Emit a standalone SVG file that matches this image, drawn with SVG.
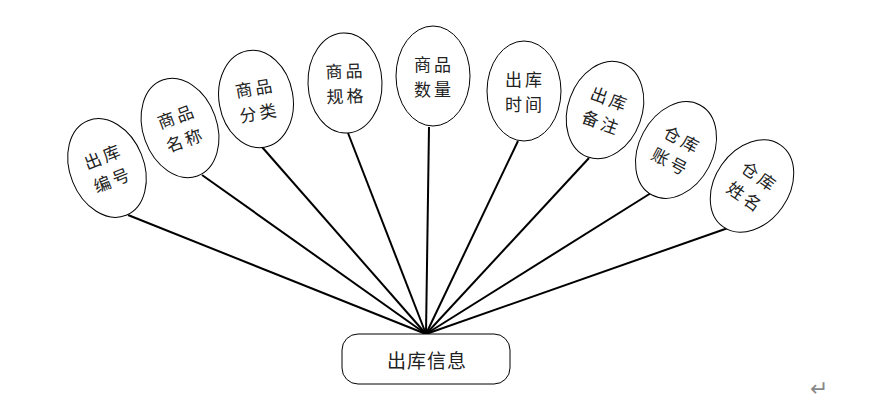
<svg xmlns="http://www.w3.org/2000/svg" width="869" height="414" viewBox="0 0 869 414">
<style>
.e{fill:#fff;stroke:#000;stroke-width:1}
.t{font-family:"Noto Sans CJK SC","Noto Sans",sans-serif;font-size:17px;fill:#222;text-anchor:middle;dominant-baseline:central;letter-spacing:3px}
.c line{stroke:#000;stroke-width:2}
.hub{fill:#fff;stroke:#000;stroke-width:1}
</style>
<rect width="869" height="414" fill="#fff"/>
<g class="c" id="connectors">
<line x1="426" y1="334" x2="128" y2="215"/>
<line x1="426" y1="334" x2="202" y2="175"/>
<line x1="426" y1="334" x2="262" y2="147"/>
<line x1="426" y1="334" x2="348" y2="133"/>
<line x1="426" y1="334" x2="429" y2="127"/>
<line x1="426" y1="334" x2="518" y2="141"/>
<line x1="426" y1="334" x2="589" y2="158"/>
<line x1="426" y1="334" x2="651" y2="193"/>
<line x1="426" y1="334" x2="728" y2="228"/>
</g>
<g id="n1" transform="rotate(-22 107 168)">
<ellipse class="e" cx="107" cy="168" rx="37" ry="51"/>
<text class="t" x="108" y="155">出库</text>
<text class="t" x="108" y="180">编号</text>
</g>
<g id="n2" transform="rotate(-20 180 128)">
<ellipse class="e" cx="180" cy="128" rx="37" ry="51"/>
<text class="t" x="181" y="115">商品</text>
<text class="t" x="181" y="140">名称</text>
</g>
<g id="n3" transform="rotate(-10 256 99)">
<ellipse class="e" cx="256" cy="99" rx="37" ry="49"/>
<text class="t" x="257" y="87">商品</text>
<text class="t" x="257" y="112">分类</text>
</g>
<g id="n4" transform="rotate(-2 345 83)">
<ellipse class="e" cx="345" cy="83" rx="37" ry="50"/>
<text class="t" x="346" y="70">商品</text>
<text class="t" x="346" y="95">规格</text>
</g>
<g id="n5">
<ellipse class="e" cx="433" cy="76" rx="37" ry="50"/>
<text class="t" x="434" y="63">商品</text>
<text class="t" x="434" y="88">数量</text>
</g>
<g id="n6">
<ellipse class="e" cx="524" cy="91" rx="37" ry="50"/>
<text class="t" x="525" y="78">出库</text>
<text class="t" x="525" y="103">时间</text>
</g>
<g id="n7" transform="rotate(20 605 110)">
<ellipse class="e" cx="605" cy="110" rx="37" ry="50"/>
<text class="t" x="606" y="97">出库</text>
<text class="t" x="606" y="122">备注</text>
</g>
<g id="n8" transform="rotate(28 676 150)">
<ellipse class="e" cx="676" cy="150" rx="37" ry="51"/>
<text class="t" x="677" y="137">仓库</text>
<text class="t" x="677" y="162">账号</text>
</g>
<g id="n9" transform="rotate(35 752 186)">
<ellipse class="e" cx="752" cy="186" rx="37" ry="50"/>
<text class="t" x="753" y="173">仓库</text>
<text class="t" x="753" y="198">姓名</text>
</g>
<g id="hub">
<rect class="hub" x="342" y="334" width="168" height="50" rx="16" ry="16"/>
<text class="t" x="427" y="359" style="font-size:19px;letter-spacing:1px">出库信息</text>
</g>
<text x="819" y="388" style="font-family:'DejaVu Sans',sans-serif;font-size:22px;fill:#888;text-anchor:middle;dominant-baseline:central">↵</text>
</svg>
